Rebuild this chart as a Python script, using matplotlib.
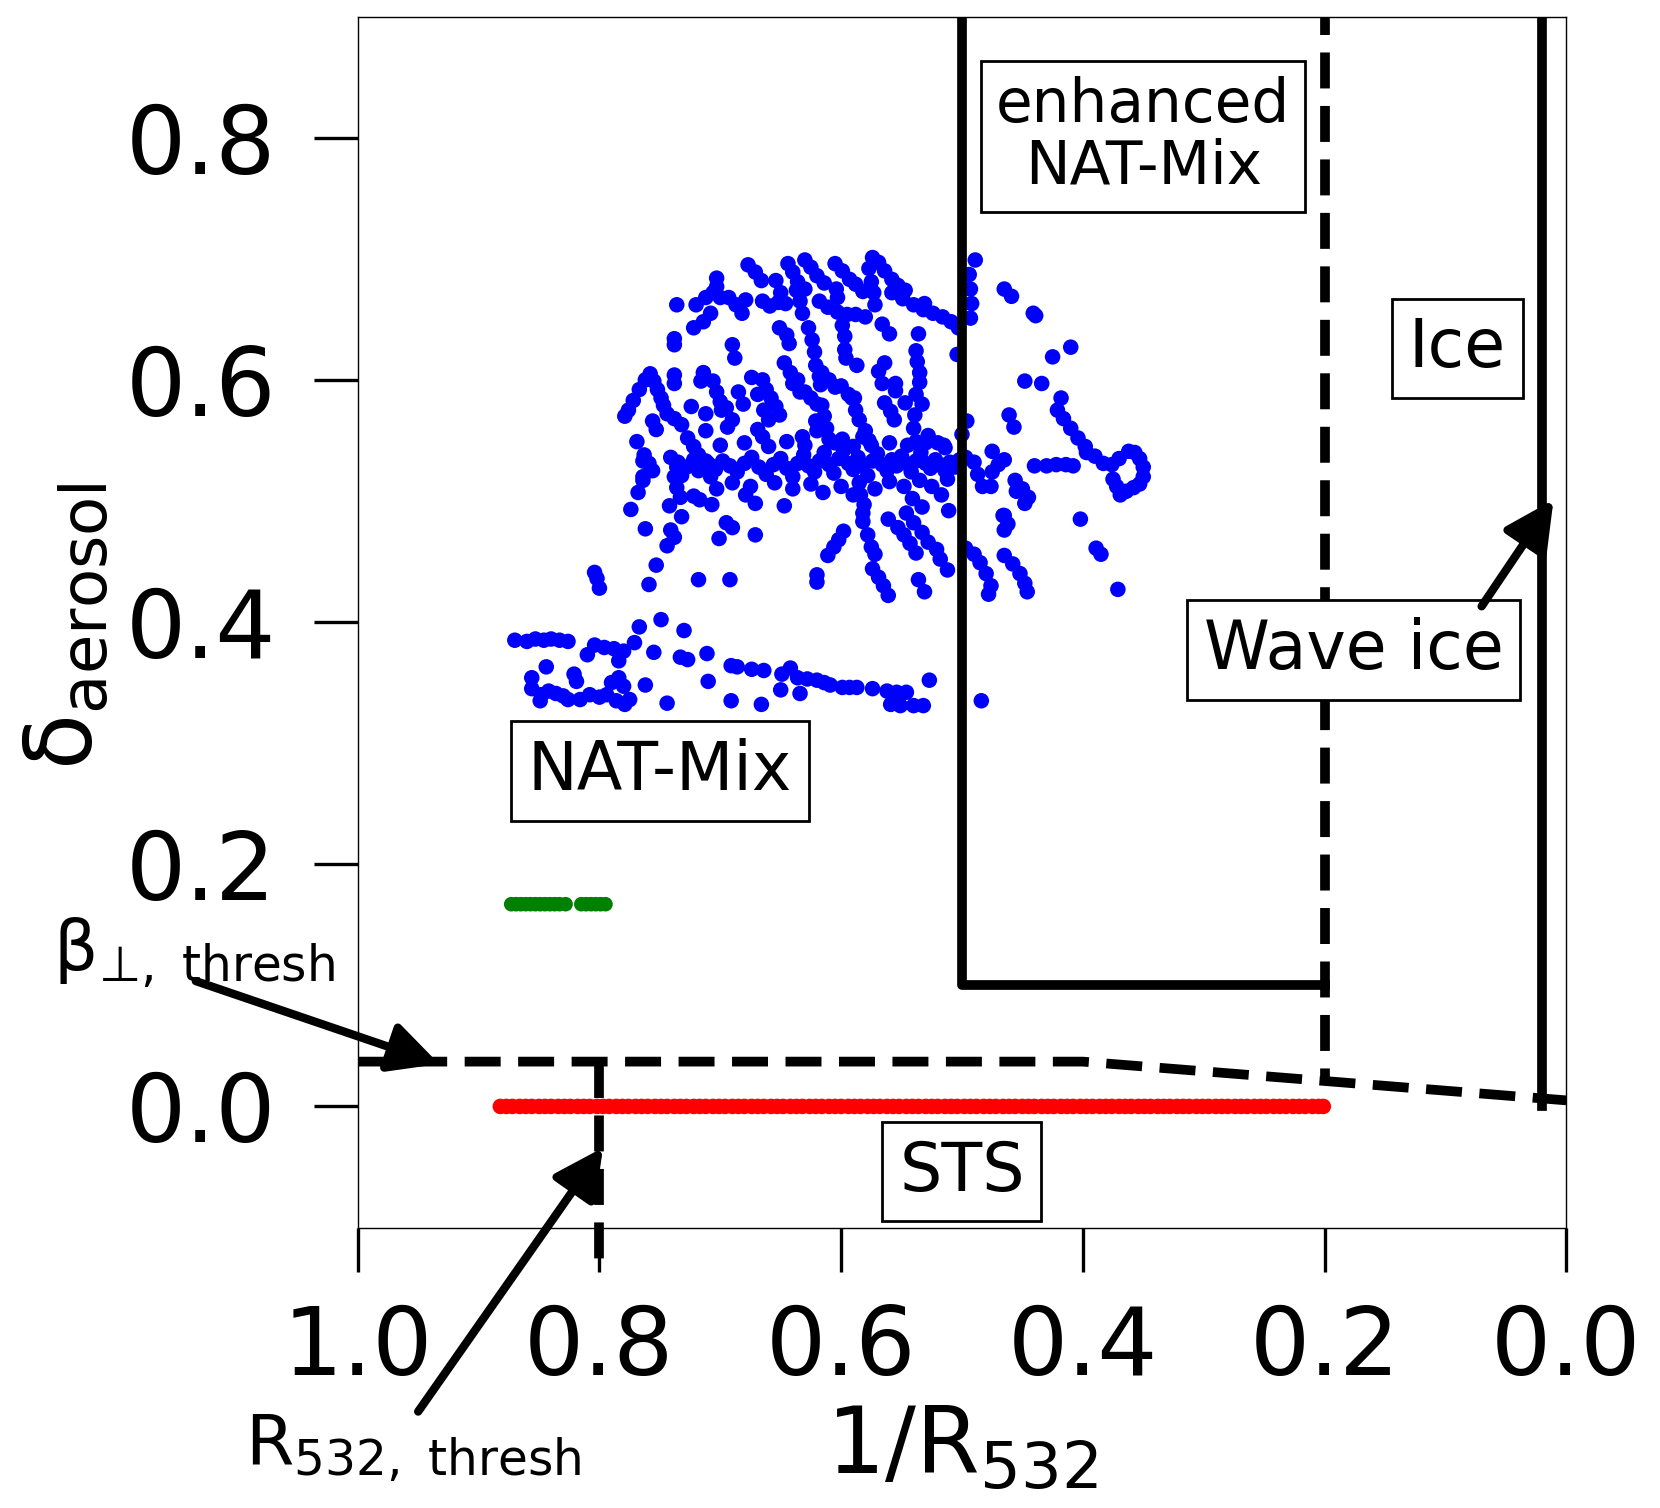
import matplotlib
matplotlib.use("Agg")
import matplotlib.pyplot as plt

plt.rcParams['font.family'] = ['DejaVu Sans']
plt.rcParams['mathtext.fontset'] = 'dejavusans'

# blue points (NAT-Mix / enhanced NAT-Mix)
blue_xy = [
    # lower arm
    (0.870, 0.385), (0.860, 0.384), (0.853, 0.386), (0.846, 0.385), (0.840, 0.386), (0.833, 0.385), (0.826, 0.384),
    (0.810, 0.373), (0.804, 0.381), (0.796, 0.379), (0.788, 0.378), (0.780, 0.376), (0.771, 0.383), (0.767, 0.396),
    (0.749, 0.402), (0.730, 0.393), (0.755, 0.375), (0.733, 0.371), (0.727, 0.369), (0.711, 0.374),
    (0.844, 0.363), (0.784, 0.368), (0.856, 0.354), (0.856, 0.345), (0.848, 0.340), (0.842, 0.343),
    (0.836, 0.341), (0.830, 0.339), (0.826, 0.336), (0.849, 0.335), (0.821, 0.357), (0.819, 0.351),
    (0.816, 0.336), (0.808, 0.340), (0.800, 0.338), (0.794, 0.340), (0.790, 0.350), (0.784, 0.354),
    (0.780, 0.347), (0.786, 0.335), (0.779, 0.332), (0.775, 0.336), (0.762, 0.348), (0.744, 0.333),
    (0.710, 0.351), (0.691, 0.364), (0.686, 0.363), (0.674, 0.361), (0.664, 0.360), (0.649, 0.357),
    (0.642, 0.362), (0.636, 0.354), (0.628, 0.353), (0.620, 0.352), (0.614, 0.350), (0.650, 0.344),
    (0.634, 0.341), (0.691, 0.335), (0.666, 0.332), (0.609, 0.348), (0.599, 0.346), (0.593, 0.346),
    (0.587, 0.346), (0.574, 0.345), (0.562, 0.343), (0.554, 0.342), (0.546, 0.342), (0.559, 0.332),
    (0.551, 0.331), (0.540, 0.331), (0.532, 0.331), (0.527, 0.352), (0.484, 0.335),
    # scattered middle
    (0.671, 0.472), (0.692, 0.435), (0.620, 0.439), (0.620, 0.433), (0.611, 0.455), (0.606, 0.462),
    (0.602, 0.468), (0.598, 0.475), (0.584, 0.505), (0.581, 0.497), (0.582, 0.490), (0.582, 0.483),
    (0.578, 0.472), (0.575, 0.462), (0.572, 0.456), (0.574, 0.444), (0.569, 0.437), (0.565, 0.430),
    (0.561, 0.422), (0.561, 0.485), (0.553, 0.478), (0.548, 0.472), (0.543, 0.465), (0.538, 0.457),
    (0.546, 0.490), (0.540, 0.482), (0.533, 0.474), (0.528, 0.466), (0.521, 0.460), (0.541, 0.502),
    (0.533, 0.495), (0.536, 0.435), (0.531, 0.425), (0.518, 0.452), (0.512, 0.443), (0.517, 0.505),
    (0.511, 0.492), (0.647, 0.496), (0.679, 0.505), (0.671, 0.498), (0.695, 0.482), (0.690, 0.478),
    (0.768, 0.507), (0.774, 0.493), (0.762, 0.477), (0.753, 0.447), (0.759, 0.431), (0.804, 0.441),
    (0.802, 0.436), (0.800, 0.428), (0.741, 0.476), (0.738, 0.470), (0.744, 0.463), (0.742, 0.496),
    (0.732, 0.487), (0.722, 0.504), (0.717, 0.501), (0.707, 0.497), (0.701, 0.469), (0.718, 0.435),
    (0.703, 0.510), (0.733, 0.503), (0.736, 0.511), (0.738, 0.520), (0.764, 0.533), (0.764, 0.520),
    # right of x = 0.5
    (0.465, 0.488), (0.465, 0.476), (0.455, 0.508), (0.448, 0.498), (0.497, 0.461), (0.490, 0.456),
    (0.485, 0.449), (0.480, 0.440), (0.476, 0.430), (0.478, 0.423), (0.465, 0.455), (0.458, 0.448),
    (0.452, 0.440), (0.448, 0.432), (0.446, 0.425), (0.402, 0.485), (0.389, 0.461), (0.385, 0.456),
    (0.371, 0.427), (0.466, 0.488), (0.462, 0.481), (0.489, 0.699), (0.494, 0.687), (0.493, 0.675),
    (0.492, 0.663), (0.493, 0.651), (0.465, 0.675), (0.459, 0.669), (0.441, 0.655), (0.439, 0.653),
    (0.410, 0.627), (0.425, 0.619), (0.504, 0.621), (0.448, 0.599), (0.434, 0.597), (0.418, 0.585),
    (0.461, 0.571), (0.457, 0.561), (0.421, 0.575), (0.416, 0.568), (0.410, 0.560), (0.404, 0.552),
    (0.398, 0.545), (0.397, 0.540), (0.390, 0.537), (0.383, 0.531), (0.440, 0.529), (0.430, 0.529),
    (0.422, 0.530), (0.414, 0.530), (0.408, 0.529), (0.370, 0.535), (0.362, 0.541), (0.357, 0.540),
    (0.353, 0.535), (0.350, 0.528), (0.350, 0.520), (0.353, 0.514), (0.358, 0.511), (0.364, 0.508),
    (0.369, 0.505), (0.372, 0.512), (0.375, 0.518), (0.376, 0.530), (0.497, 0.536), (0.490, 0.532),
    (0.487, 0.522), (0.483, 0.512), (0.475, 0.524), (0.470, 0.530), (0.465, 0.534), (0.476, 0.512),
    (0.456, 0.517), (0.450, 0.510), (0.445, 0.503), (0.475, 0.541), (0.500, 0.555), (0.496, 0.566),
    # upper left
    (0.703, 0.684), (0.703, 0.677), (0.736, 0.662), (0.720, 0.662), (0.712, 0.668), (0.706, 0.672),
    (0.700, 0.668), (0.708, 0.655), (0.714, 0.648), (0.722, 0.643), (0.738, 0.634), (0.738, 0.629),
    (0.738, 0.604), (0.738, 0.597), (0.714, 0.606), (0.716, 0.599), (0.779, 0.570), (0.776, 0.575),
    (0.772, 0.583), (0.767, 0.592), (0.762, 0.600), (0.758, 0.605), (0.755, 0.599), (0.752, 0.592),
    (0.749, 0.585), (0.747, 0.579), (0.744, 0.572), (0.724, 0.578), (0.712, 0.572), (0.756, 0.566),
    (0.753, 0.559), (0.738, 0.568), (0.732, 0.563), (0.727, 0.552), (0.722, 0.545), (0.718, 0.538),
    (0.769, 0.549), (0.763, 0.538), (0.759, 0.531), (0.756, 0.525), (0.741, 0.536), (0.736, 0.528),
    (0.732, 0.521), (0.764, 0.517), (0.712, 0.558), (0.706, 0.599), (0.703, 0.590), (0.700, 0.582),
    (0.699, 0.575), (0.712, 0.533), (0.706, 0.528), (0.718, 0.525), (0.708, 0.520),
    # upper middle
    (0.677, 0.695), (0.671, 0.689), (0.666, 0.682), (0.644, 0.696), (0.630, 0.699), (0.625, 0.693),
    (0.620, 0.686), (0.614, 0.680), (0.640, 0.689), (0.636, 0.681), (0.630, 0.675), (0.654, 0.682),
    (0.650, 0.672), (0.652, 0.664), (0.605, 0.696), (0.599, 0.690), (0.593, 0.683), (0.588, 0.679),
    (0.582, 0.673), (0.604, 0.675), (0.603, 0.668), (0.574, 0.701), (0.569, 0.697), (0.564, 0.690),
    (0.558, 0.683), (0.553, 0.678), (0.577, 0.692), (0.575, 0.681), (0.573, 0.672), (0.572, 0.662),
    (0.558, 0.672), (0.549, 0.667), (0.540, 0.662), (0.532, 0.658), (0.524, 0.655), (0.516, 0.652),
    (0.509, 0.648), (0.503, 0.643), (0.547, 0.674), (0.531, 0.663), (0.693, 0.668), (0.687, 0.662),
    (0.679, 0.666), (0.682, 0.655), (0.665, 0.665), (0.659, 0.661), (0.646, 0.663), (0.637, 0.674),
    (0.634, 0.665), (0.632, 0.655), (0.618, 0.665), (0.611, 0.660), (0.603, 0.656), (0.595, 0.654),
    (0.588, 0.654), (0.580, 0.652), (0.566, 0.646), (0.560, 0.638), (0.627, 0.643), (0.624, 0.633),
    (0.622, 0.623), (0.621, 0.612), (0.618, 0.603), (0.617, 0.596), (0.651, 0.643), (0.645, 0.637),
    (0.643, 0.630), (0.599, 0.645), (0.597, 0.636), (0.597, 0.625), (0.596, 0.618), (0.587, 0.612),
    (0.690, 0.629), (0.688, 0.618), (0.538, 0.624), (0.537, 0.615), (0.535, 0.606), (0.535, 0.598),
    (0.536, 0.638), (0.564, 0.614), (0.569, 0.607), (0.566, 0.597), (0.555, 0.597), (0.555, 0.591),
    (0.538, 0.588), (0.533, 0.580), (0.539, 0.571), (0.540, 0.560), (0.538, 0.549), (0.528, 0.554),
    (0.520, 0.548), (0.514, 0.544), (0.547, 0.581), (0.564, 0.581), (0.559, 0.574), (0.556, 0.567),
    (0.647, 0.614), (0.642, 0.606), (0.636, 0.600), (0.640, 0.597), (0.634, 0.590), (0.616, 0.606),
    (0.610, 0.600), (0.605, 0.594), (0.600, 0.595), (0.594, 0.588), (0.589, 0.585), (0.674, 0.602),
    (0.665, 0.600), (0.685, 0.590), (0.681, 0.580), (0.669, 0.588), (0.662, 0.592), (0.658, 0.585),
    (0.654, 0.578), (0.651, 0.571), (0.664, 0.575), (0.660, 0.567), (0.630, 0.590), (0.625, 0.585),
    (0.620, 0.580), (0.616, 0.579), (0.614, 0.570), (0.612, 0.560), (0.610, 0.551), (0.621, 0.566),
    (0.620, 0.558), (0.591, 0.585), (0.588, 0.575), (0.585, 0.567), (0.580, 0.558), (0.577, 0.550),
    (0.582, 0.553), (0.695, 0.577), (0.690, 0.567), (0.694, 0.561), (0.669, 0.559), (0.665, 0.553),
    (0.632, 0.553), (0.599, 0.551),
    # dense band near 0.53
    (0.735, 0.532), (0.728, 0.528), (0.722, 0.534), (0.716, 0.527), (0.710, 0.531), (0.704, 0.526),
    (0.698, 0.533), (0.692, 0.529), (0.686, 0.524), (0.680, 0.531), (0.674, 0.536), (0.668, 0.528),
    (0.662, 0.522), (0.656, 0.530), (0.650, 0.535), (0.645, 0.527), (0.640, 0.520), (0.636, 0.531),
    (0.631, 0.538), (0.627, 0.529), (0.622, 0.524), (0.618, 0.533), (0.614, 0.540), (0.610, 0.530),
    (0.606, 0.523), (0.602, 0.535), (0.598, 0.542), (0.594, 0.531), (0.590, 0.526), (0.586, 0.536),
    (0.582, 0.529), (0.578, 0.521), (0.574, 0.533), (0.570, 0.539), (0.566, 0.530), (0.562, 0.525),
    (0.558, 0.534), (0.554, 0.529), (0.550, 0.537), (0.546, 0.531), (0.542, 0.524), (0.538, 0.533),
    (0.534, 0.540), (0.530, 0.531), (0.526, 0.527), (0.522, 0.534), (0.518, 0.530), (0.514, 0.525),
    (0.510, 0.532), (0.506, 0.528), (0.502, 0.534),
    (0.690, 0.515), (0.675, 0.512), (0.655, 0.515), (0.640, 0.510), (0.625, 0.514), (0.615, 0.507),
    (0.600, 0.512), (0.590, 0.505), (0.585, 0.515), (0.572, 0.510), (0.560, 0.516), (0.548, 0.512),
    (0.535, 0.517), (0.525, 0.512), (0.512, 0.518),
    (0.700, 0.546), (0.680, 0.548), (0.660, 0.545), (0.645, 0.549), (0.630, 0.546), (0.605, 0.548),
    (0.590, 0.545), (0.575, 0.546), (0.560, 0.548), (0.545, 0.546), (0.530, 0.548), (0.515, 0.546),
]
blue_x = [p[0] for p in blue_xy]
blue_y = [p[1] for p in blue_xy]

# green points (short segment near 0.17)
green_x = [0.873, 0.869, 0.865, 0.861, 0.857, 0.853, 0.849, 0.845, 0.841, 0.837, 0.833, 0.828,
           0.815, 0.811, 0.807, 0.803, 0.799, 0.795]
green_y = [0.167, 0.167, 0.167, 0.167, 0.167, 0.167, 0.167, 0.167, 0.167, 0.167, 0.167, 0.167,
           0.167, 0.167, 0.167, 0.167, 0.167, 0.167]

# red points (STS, depolarisation zero)
red_x = [0.882, 0.877, 0.872, 0.866, 0.861, 0.856, 0.850, 0.845, 0.840, 0.834,
         0.829, 0.824, 0.818, 0.813, 0.808, 0.802, 0.797, 0.792, 0.786, 0.781,
         0.776, 0.770, 0.765, 0.760, 0.754, 0.749, 0.744, 0.738, 0.733, 0.728,
         0.722, 0.717, 0.712, 0.706, 0.701, 0.696, 0.690, 0.685, 0.680, 0.674,
         0.669, 0.664, 0.658, 0.653, 0.648, 0.642, 0.637, 0.632, 0.626, 0.621,
         0.616, 0.610, 0.605, 0.600, 0.594, 0.589, 0.584, 0.578, 0.573, 0.568,
         0.562, 0.557, 0.552, 0.546, 0.541, 0.536, 0.530, 0.525, 0.520, 0.514,
         0.509, 0.504, 0.498, 0.493, 0.488, 0.482, 0.477, 0.472, 0.466, 0.461,
         0.456, 0.450, 0.445, 0.440, 0.434, 0.429, 0.424, 0.418, 0.413, 0.408,
         0.402, 0.397, 0.392, 0.386, 0.381, 0.376, 0.370, 0.365, 0.360, 0.354,
         0.349, 0.344, 0.338, 0.333, 0.328, 0.322, 0.317, 0.312, 0.306, 0.301,
         0.296, 0.290, 0.285, 0.280, 0.274, 0.269, 0.264, 0.258, 0.253, 0.248,
         0.242, 0.237, 0.232, 0.226, 0.221, 0.216, 0.210, 0.205, 0.201]
red_y = [0.0] * len(red_x)

# classification boundaries
nat_enh_x = [0.5, 0.5, 0.2]
nat_enh_y = [0.95, 0.1, 0.1]
wave_x = [0.2, 0.2]
wave_y = [0.95, 0.022]
ice_x = [0.02, 0.02]
ice_y = [0.95, 0.0]
beta_x = [1.0, 0.4, 0.0]
beta_y = [0.037, 0.037, 0.005]
rthr_x = [0.8, 0.8]
rthr_y = [0.037, -0.133]

fig = plt.figure(figsize=(16.6, 15.08), dpi=100)
ax = fig.add_axes([0.2155, 0.186, 0.728, 0.803])

ax.scatter(blue_x, blue_y, s=125, c='blue', edgecolors='none', zorder=2)
ax.scatter(green_x, green_y, s=110, c='green', edgecolors='none', zorder=2)
ax.scatter(red_x, red_y, s=125, c='red', edgecolors='none', zorder=2)

dash = (0, (3.7, 1.8))
ax.plot(nat_enh_x, nat_enh_y, color='black', lw=7, zorder=3)
ax.plot(ice_x, ice_y, color='black', lw=7, zorder=3)
ax.plot(wave_x, wave_y, color='black', lw=7, ls=dash, zorder=3)
ax.plot(beta_x, beta_y, color='black', lw=7, ls=dash, zorder=3)
ax.plot(rthr_x, rthr_y, color='black', lw=7, ls=dash, zorder=3, clip_on=False)

ax.set_xlim(1.0, 0.0)
ax.set_ylim(-0.1, 0.9)
ax.set_xticks([1.0, 0.8, 0.6, 0.4, 0.2, 0.0])
ax.set_yticks([0.0, 0.2, 0.4, 0.6, 0.8])
ax.xaxis.set_major_formatter(plt.FormatStrFormatter('%.1f'))
ax.yaxis.set_major_formatter(plt.FormatStrFormatter('%.1f'))
ax.tick_params(axis='both', direction='out', length=32, width=2.4, labelsize=68)
ax.tick_params(axis='x', pad=22)
ax.tick_params(axis='y', pad=27)
for sp in ax.spines.values():
    sp.set_linewidth(1.0)

ax.set_xlabel(r'$\mathregular{1/R_{532}}$', fontsize=66)
ax.xaxis.set_label_coords(0.5, -0.145)
ax.set_ylabel(r'$\mathregular{δ_{aerosol}}$', fontsize=66)
ax.yaxis.set_label_coords(-0.204, 0.497)

box = dict(boxstyle='square,pad=0.25', facecolor='white', edgecolor='black', lw=2)
ax.text(0.350, 0.801, 'enhanced\nNAT-Mix', fontsize=43, ha='center', va='center',
        linespacing=1.05, bbox=box, zorder=4)
ax.text(0.090, 0.626, 'Ice', fontsize=48, ha='center', va='center', bbox=box, zorder=4)
ax.text(0.176, 0.377, 'Wave ice', fontsize=48, ha='center', va='center', bbox=box, zorder=4)
ax.text(0.750, 0.277, 'NAT-Mix', fontsize=48, ha='center', va='center', bbox=box, zorder=4)
ax.text(0.500, -0.054, 'STS', fontsize=48, ha='center', va='center', bbox=box, zorder=4)

arrow = dict(arrowstyle='-|>,head_length=0.75,head_width=0.38', lw=6, color='black',
             mutation_scale=40, shrinkA=0, shrinkB=0)
ax.annotate('', xy=(0.0105, 0.501), xytext=(0.070, 0.413), arrowprops=arrow, zorder=5)
ax.annotate('', xy=(0.9326, 0.035), xytext=(1.134, 0.1035), arrowprops=arrow,
            annotation_clip=False, zorder=5)
ax.annotate('', xy=(0.797, -0.034), xytext=(0.950, -0.252), arrowprops=arrow,
            annotation_clip=False, zorder=5)

ax.text(1.252, 0.112, r'$\mathregular{β_{⊥,\ thresh}}$', fontsize=50,
        ha='left', va='baseline', clip_on=False)
ax.text(1.093, -0.296, r'$\mathregular{R_{532,\ thresh}}$', fontsize=50,
        ha='left', va='baseline', clip_on=False)

fig.savefig('out.png', dpi=100)
